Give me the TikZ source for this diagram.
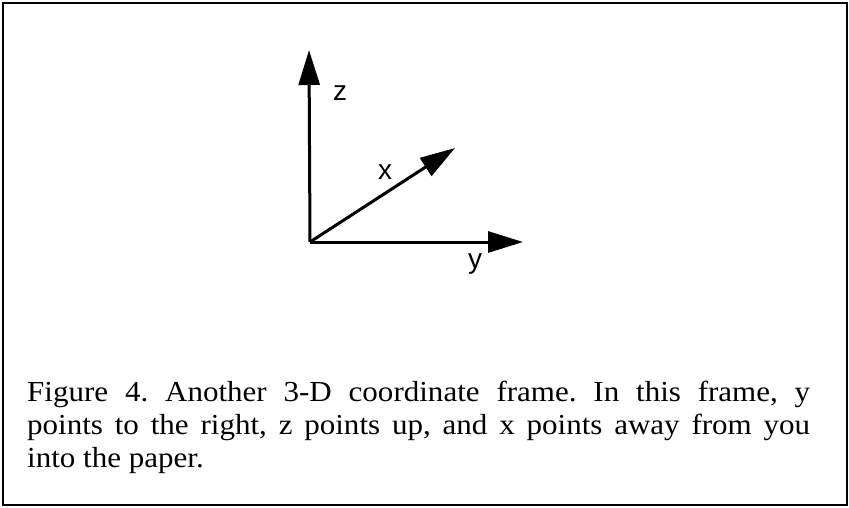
\documentclass[tikz,border=0pt]{standalone}
\usepackage{fontspec}
\setmainfont{Liberation Serif}[FakeStretch=1.07]
\newfontfamily\labelfont{Liberation Sans}
\usetikzlibrary{arrows.meta}
\tikzset{
  axis/.style={line width=3pt, -{Triangle[length=35pt,width=21pt]}},
  axlabel/.style={font=\labelfont\fontsize{28}{30}\selectfont, inner sep=0pt},
  caption/.style={font=\fontsize{29}{33}\selectfont\frenchspacing, text width=783pt, align=justify, inner sep=0pt, anchor=north west}
}
\begin{document}
\begin{tikzpicture}[x=1pt,y=-1pt]
\useasboundingbox (0,0) rectangle (849,508);
\draw[line width=2pt] (3,3) rectangle (847,505);
\coordinate (o) at (310,242);
\coordinate (zt) at (309,50);
\coordinate (yt) at (523,242);
\coordinate (xt) at (455,148);
\draw[axis] (o) -- (zt);
\draw[axis] (o) -- (yt);
\draw[axis] (o) -- (xt);
\node[axlabel] (zl) at (340,93) {z};
\node[axlabel] (xl) at (385,172) {x};
\node[axlabel] (yl) at (475,264) {y};
\node[caption] (cap) at (27,381) {Figure 4. Another 3-D coordinate frame. In this frame, y\linebreak points to the right, z points up, and x points away from you\linebreak into the paper.};
\end{tikzpicture}
\end{document}
